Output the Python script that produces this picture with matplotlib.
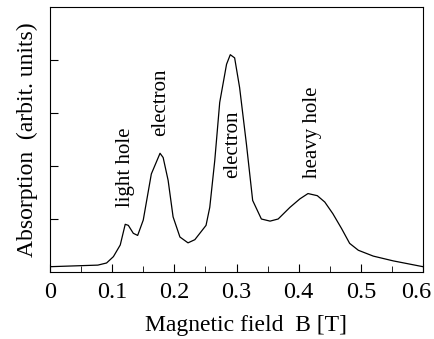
import matplotlib
matplotlib.use('Agg')
import matplotlib.pyplot as plt
from matplotlib.ticker import FixedLocator, MultipleLocator
from matplotlib.transforms import ScaledTranslation

plt.rcParams['font.family'] = ['Liberation Serif', 'DejaVu Serif']

# absorption spectrum
field = [0.0, 0.077, 0.091, 0.102, 0.113, 0.121, 0.126, 0.134, 0.141, 0.150,
         0.163, 0.177, 0.182, 0.190, 0.198, 0.209, 0.222, 0.233, 0.251, 0.257,
         0.265, 0.273, 0.284, 0.290, 0.297, 0.305, 0.316, 0.326, 0.340, 0.354,
         0.367, 0.386, 0.402, 0.415, 0.430, 0.442, 0.455, 0.469, 0.482, 0.496,
         0.520, 0.552, 0.600]
absorption = [0.10, 0.13, 0.17, 0.29, 0.51, 0.90, 0.88, 0.73, 0.69, 0.98,
              1.85, 2.24, 2.16, 1.73, 1.04, 0.66, 0.55, 0.61, 0.88, 1.22,
              2.10, 3.20, 3.92, 4.10, 4.04, 3.48, 2.41, 1.35, 1.00, 0.96,
              1.00, 1.22, 1.38, 1.48, 1.44, 1.32, 1.10, 0.82, 0.54, 0.41,
              0.30, 0.21, 0.10]

peak_labels = ['light hole', 'electron', 'electron', 'heavy hole']
peak_x = [0.121, 0.178, 0.294, 0.423]
peak_y = [1.22, 2.57, 1.78, 1.78]

x_ticks = [0, 0.1, 0.2, 0.3, 0.4, 0.5, 0.6]
x_ticklabels = ['0', '0.1', '0.2', '0.3', '0.4', '0.5', '0.6']

fig = plt.figure(figsize=(4.34, 3.39), dpi=100)
ax = fig.add_axes([50 / 434, 1 - 272 / 339, 373 / 434, 265 / 339])

ax.plot(field, absorption, color='black', lw=0.9)

for lab, x, y in zip(peak_labels, peak_x, peak_y):
    ax.text(x, y, lab, rotation=90, ha='center', va='bottom', fontsize=15)

ax.set_xlim(0, 0.6)
ax.set_ylim(0, 5)
ax.set_xticks(x_ticks)
ax.set_xticklabels(x_ticklabels)
ax.xaxis.set_minor_locator(MultipleLocator(0.05))
ax.yaxis.set_major_locator(FixedLocator([1, 2, 3, 4]))
ax.set_yticklabels([])
ax.tick_params(axis='x', which='both', direction='in', top=False, labelsize=17.5, pad=7)
ax.tick_params(axis='x', which='major', length=6)
ax.tick_params(axis='x', which='minor', length=4)
ax.tick_params(axis='y', direction='in', right=False, length=6)

# last label sits a bit left of its tick, as in the original
last = ax.xaxis.get_major_ticks()[-1].label1
last.set_transform(last.get_transform() + ScaledTranslation(-7 / 100, 0, fig.dpi_scale_trans))

ax.set_xlabel('Magnetic field  B [T]', fontsize=17, labelpad=9)
ax.xaxis.label.set_x(0.525)
ax.set_ylabel('Absorption  (arbit. units)', fontsize=17, labelpad=5)

fig.savefig('out.png', dpi=100)
